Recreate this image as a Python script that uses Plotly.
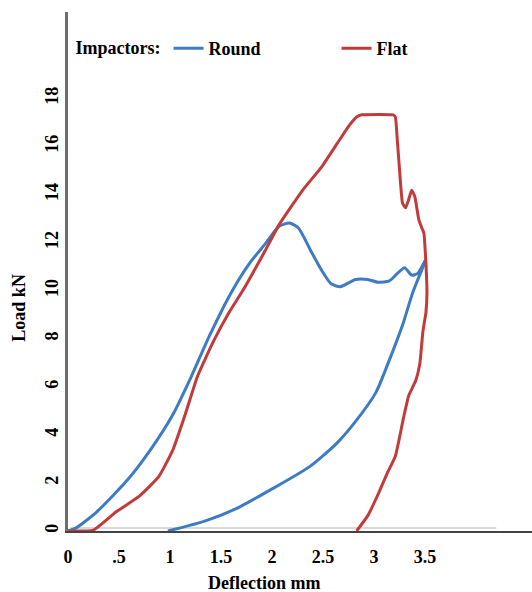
import plotly.graph_objects as go

# Round impactor: loading + unloading path (deflection mm, load kN)
round_x = [0, 0.08, 0.28, 0.58, 0.81, 1.03, 1.21, 1.39, 1.60, 1.78, 1.93, 2.07, 2.17, 2.26, 2.37,
           2.48, 2.58, 2.67, 2.82, 2.94, 3.04, 3.15, 3.23, 3.30, 3.37, 3.43, 3.51,
           3.38, 3.28, 3.17, 3.02, 2.82, 2.64, 2.37, 1.98, 1.65, 1.34, 0.98]
round_y = [0, 0.13, 0.79, 2.11, 3.39, 4.86, 6.44, 8.15, 9.92, 11.14, 11.93, 12.68, 12.82, 12.61, 11.75,
           10.90, 10.29, 10.17, 10.47, 10.47, 10.35, 10.41, 10.72, 10.96, 10.65, 10.72, 11.32,
           9.92, 8.56, 7.32, 5.77, 4.56, 3.67, 2.68, 1.70, 0.93, 0.41, 0]

# Flat impactor: loading + unloading path
flat_x = [0, 0.25, 0.47, 0.70, 0.89, 1.03, 1.15, 1.27, 1.42, 1.58, 1.72, 1.93, 2.07, 2.30, 2.48,
          2.64, 2.76, 2.83, 2.88, 3.19, 3.21, 3.23, 3.26, 3.28, 3.31, 3.34, 3.37, 3.40, 3.44,
          3.47, 3.49, 3.50, 3.51, 3.52, 3.51, 3.48, 3.45, 3.41, 3.34, 3.29, 3.21, 3.13, 3.04,
          2.94, 2.83]
flat_y = [0, 0.04, 0.79, 1.45, 2.26, 3.39, 4.86, 6.44, 7.84, 9.10, 10.05, 11.64, 12.75, 14.18, 15.11,
          16.13, 16.89, 17.23, 17.32, 17.32, 17.23, 16.23, 14.53, 13.65, 13.45, 13.79, 14.18, 13.93, 12.96,
          12.61, 12.40, 11.87, 11.14, 9.92, 9.10, 8.29, 6.96, 6.26, 5.62, 4.71, 3.11, 2.40, 1.52,
          0.64, 0]

x_tickvals = [0, 0.5, 1, 1.5, 2, 2.5, 3, 3.5]
x_ticktext = ["0", ".5", "1", "1.5", "2", "2.5", "3", "3.5"]
y_tickvals = [0, 2, 4, 6, 8, 10, 12, 14, 16, 18]

BLUE = "#3d7cc4"
RED = "#c23b3b"
FONT = "Liberation Serif"

fig = go.Figure()
fig.add_trace(go.Scatter(x=round_x, y=round_y, mode="lines", name="<b>Round</b>",
                         line=dict(color=BLUE, width=3, shape="spline", smoothing=0.6)))
fig.add_trace(go.Scatter(x=flat_x, y=flat_y, mode="lines", name="<b>Flat</b>",
                         line=dict(color=RED, width=3, shape="spline", smoothing=0.4)))

fig.update_layout(
    width=532, height=592,
    margin=dict(l=68, r=0, t=12, b=61),
    paper_bgcolor="white", plot_bgcolor="white",
    font=dict(family=FONT, size=18, color="black"),
    showlegend=True,
    legend=dict(
        orientation="h", x=0.012, y=0.965, xanchor="left", yanchor="top",
        title=dict(text="<b>Impactors:</b>", side="left", font=dict(size=18)),
        font=dict(size=18), entrywidth=123, itemwidth=30,
        bgcolor="rgba(0,0,0,0)",
    ),
    xaxis=dict(
        range=[0, 4.55], showgrid=False, zeroline=False,
        showline=True, linecolor="#444444", linewidth=2,
        tickvals=x_tickvals, ticktext=[f"<b>{t}</b>" for t in x_ticktext],
        ticks="", ticklabelstandoff=8, tickfont=dict(size=18),
    ),
    yaxis=dict(
        range=[0, 21.6], showgrid=False, zeroline=False,
        showline=True, linecolor="#6e6e6e", linewidth=3,
        tickvals=y_tickvals, ticktext=[f"<b>{v}</b>" for v in y_tickvals],
        ticks="", tickangle=-90, ticklabelstandoff=0, tickfont=dict(size=18),
    ),
    shapes=[
        dict(type="line", xref="x", yref="paper", x0=0.02, x1=4.2, y0=0.006, y1=0.006,
             line=dict(color="#d9d9d9", width=2), layer="below"),
    ],
    annotations=[
        dict(text="<b>Deflection mm</b>", xref="paper", yref="paper", x=0.422, y=-0.100,
             xanchor="center", yanchor="middle", showarrow=False, font=dict(size=18)),
        dict(text="<b>Load kN</b>", xref="paper", yref="paper", x=-0.106, y=0.43,
             xanchor="center", yanchor="middle", showarrow=False, textangle=-90,
             font=dict(size=18)),
    ],
)

fig.write_html("out.html")
